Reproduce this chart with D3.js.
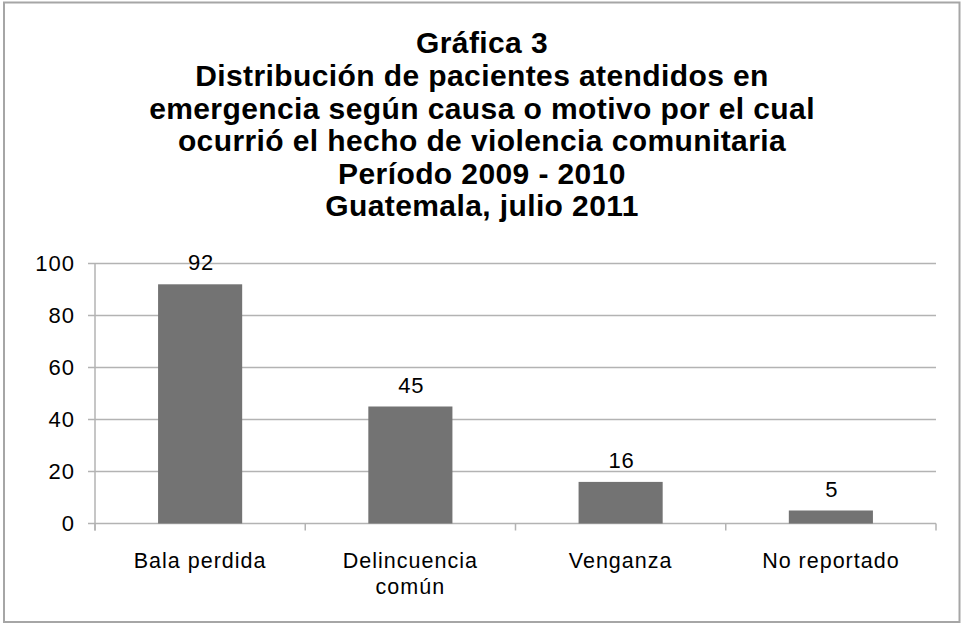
<!DOCTYPE html>
<html><head><meta charset="utf-8">
<script src="https://cdn.jsdelivr.net/npm/d3@7"></script>
<style>body{margin:0;background:#fff;} svg{display:block;font-family:"Liberation Sans",Arial,sans-serif;}</style>
</head><body>
<svg id="c" width="963" height="624"></svg>
<script>
const titleLines = ["Gráfica 3","Distribución de pacientes atendidos en","emergencia según causa o motivo por el cual","ocurrió el hecho de violencia comunitaria","Período 2009 - 2010","Guatemala, julio 2011"];
const categories = [["Bala perdida"],["Delincuencia","común"],["Venganza"],["No reportado"]];
const values = [92,45,16,5];
const yTicks = [0,20,40,60,80,100];

const svg = d3.select("#c");
svg.append("rect").attr("x",4).attr("y",2.5).attr("width",955.5).attr("height",619.5)
  .attr("fill","#fff").attr("stroke","#a6a6a6").attr("stroke-width",2);

const pL=95, pR=936, pT=263.5, pB=523.5;
const x = d3.scaleBand().domain(d3.range(values.length)).range([pL,pR]).paddingInner(0.6).paddingOuter(0.3);
const xb = d3.scaleBand().domain(d3.range(values.length)).range([pL,pR]);
const y = d3.scaleLinear().domain([0,100]).range([pB,pT]);

// title
svg.append("g").selectAll("text").data(titleLines).join("text")
  .attr("x",482).attr("y",(d,i)=>53.3+i*32.6).attr("text-anchor","middle")
  .attr("font-weight","bold").attr("font-size",30).attr("letter-spacing",0.4).attr("fill","#000").text(d=>d);

// gridlines
svg.append("g").selectAll("line").data(yTicks).join("line")
  .attr("x1",pL-7).attr("x2",pR).attr("y1",d=>y(d)).attr("y2",d=>y(d))
  .attr("stroke","#b3b3b3").attr("stroke-width",1.5);
// y axis line
svg.append("line").attr("x1",pL).attr("x2",pL).attr("y1",pT).attr("y2",pB+7)
  .attr("stroke","#b3b3b3").attr("stroke-width",1.5);
// x ticks
svg.append("g").selectAll("line").data(d3.range(values.length+1)).join("line")
  .attr("x1",i=>pL+i*xb.bandwidth()).attr("x2",i=>pL+i*xb.bandwidth())
  .attr("y1",pB).attr("y2",pB+7).attr("stroke","#b3b3b3").attr("stroke-width",1.5);

// y labels
svg.append("g").selectAll("text").data(yTicks).join("text")
  .attr("x",75).attr("y",d=>y(d)+7.5).attr("text-anchor","end")
  .attr("font-size",22).attr("letter-spacing",1).attr("fill","#000").text(d=>d);

// bars
svg.append("g").selectAll("rect").data(values).join("rect")
  .attr("x",(d,i)=>x(i)).attr("width",x.bandwidth())
  .attr("y",d=>y(d)).attr("height",d=>pB-y(d)).attr("fill","#737373");

// value labels
svg.append("g").selectAll("text").data(values).join("text")
  .attr("x",(d,i)=>x(i)+x.bandwidth()/2+1).attr("y",d=>y(d)-14).attr("text-anchor","middle")
  .attr("font-size",22).attr("letter-spacing",1).attr("fill","#000").text(d=>d);

// category labels
const cg = svg.append("g").selectAll("text").data(categories).join("text")
  .attr("x",(d,i)=>xb(i)+xb.bandwidth()/2).attr("y",568).attr("text-anchor","middle")
  .attr("font-size",21.5).attr("letter-spacing",1).attr("fill","#000");
cg.selectAll("tspan").data(d=>d).join("tspan")
  .attr("x",function(){return this.parentNode.getAttribute("x");})
  .attr("dy",(d,i)=>i===0?0:26).text(d=>d);
</script>
</body></html>
